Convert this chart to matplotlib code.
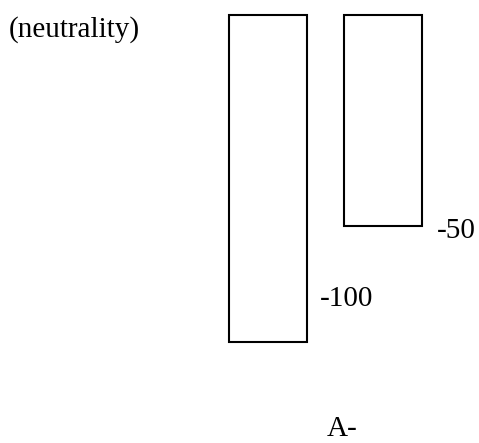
import matplotlib.pyplot as plt

# values shown on each hanging bar
labels = ["-100", "-50"]
values = [-100, -50]
top = 41  # common upper level the bars hang from

plt.rcParams['font.family'] = ['Liberation Serif', 'DejaVu Serif']

fig = plt.figure(figsize=(4.79, 4.43), dpi=100, facecolor='white')
ax = fig.add_axes([0, 0, 1, 1])
ax.axis('off')

x = list(range(len(values)))
heights = [top - v for v in values]
bars = ax.bar(x, heights, bottom=values, width=0.68, facecolor='white',
              edgecolor='black', linewidth=1.5)

# value labels to the right of each bar bottom
offsets = [(13, 43), (15, -5)]
for b, v, lab, (dx, dy) in zip(bars, values, labels, offsets):
    ax.annotate(lab, (b.get_x() + b.get_width(), v), xytext=(dx, dy),
                textcoords='offset pixels', fontsize=21, ha='left', va='center')

ax.set_xlim(-2.33, 1.835)
ax.set_ylim(-143.5, 47.4)

fig.text(9 / 479, 1 - 30 / 443, "(neutrality)", fontsize=21, ha='left', va='center')
fig.text(327 / 479, 1 / 443, "A-", fontsize=21, ha='left', va='bottom')

fig.savefig('out.png', dpi=100, facecolor='white')
